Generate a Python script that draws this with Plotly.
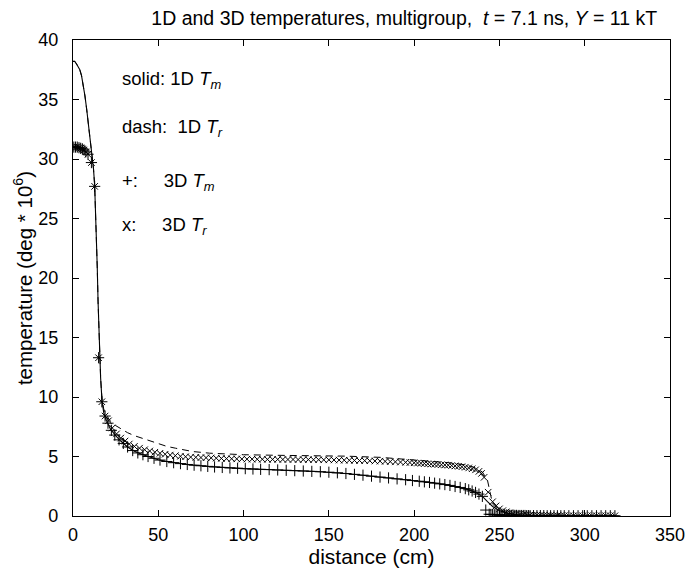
import plotly.graph_objects as go

# 1D solution (lines)
X1 = [0, 1, 2, 3, 4, 5, 6, 7, 8, 9, 10, 11, 12, 12.7, 13.2, 13.7, 14.2, 14.7, 15.2, 15.6, 16.2,
      17, 18, 19, 20, 22, 25, 28, 32, 36, 40, 45, 50, 55, 60, 70, 80, 90, 100, 120, 140,
      160, 180, 200, 210, 220, 230, 235, 240, 243, 246, 250, 255, 260, 270, 280, 290, 300, 310, 320]
TM1 = [38.2, 38.2, 38.0, 37.8, 37.5, 37.0, 36.2, 35.3, 34.2, 33.0, 31.7, 30.4, 29.2, 27.8, 26.0, 24.0,
       21.0, 18.0, 15.3, 14.0, 11.6,
       9.7, 8.7, 8.2, 7.9, 7.3, 6.75, 6.3, 5.8, 5.45, 5.2, 4.95, 4.72, 4.58, 4.48, 4.28, 4.16, 4.06,
       3.98, 3.87, 3.76, 3.57, 3.27, 2.98, 2.82, 2.6, 2.3, 2.05, 1.65, 1.2, 0.8, 0.45, 0.22, 0.1,
       0.03, 0.01, 0.0, 0.0, 0.0, 0.0]
TR1 = TM1[:21] + [9.8, 9.0, 8.6, 8.35, 7.95, 7.6, 7.35, 7.0, 6.75, 6.55, 6.3, 6.07, 5.85, 5.7, 5.42,
                  5.28, 5.2, 5.15, 5.1, 5.07, 5.03, 4.93, 4.72, 4.6, 4.48, 4.3, 4.1, 3.7, 3.0, 1.0,
                  0.45, 0.22, 0.1, 0.04, 0.02, 0.01, 0.0, 0.0, 0.0]

# 3D solution, material temperature (+)
X3M = [0.5, 1.5, 2.5, 3.5, 4.5, 5.5, 6.5, 7.5, 8.8, 10.8, 12.7, 15.0, 16.9, 18.8,
       20.5, 22.5, 24.5, 27, 29.5, 32, 35, 38, 41, 44, 47.5, 51, 55, 59, 63, 67, 71, 75, 79, 83,
       87.5, 92, 96.5, 101, 105.5, 110, 115, 120, 125, 130, 135, 140, 145, 150, 155, 160, 165, 170,
       175, 180, 185, 190, 195, 199, 203, 206, 209, 212, 215, 218, 221, 224, 227, 230, 232, 234,
       236, 238, 240, 242,
       244, 245, 246, 247, 248, 249, 250, 251, 252, 253, 254, 255, 256, 257, 258, 259, 260, 261,
       262, 263, 264, 265, 266, 267, 268, 270, 272, 274, 276, 278, 280, 282, 284, 286, 288,
       290.7, 293.4, 296.1, 298.8, 301.5, 304.2, 306.9, 309.6, 312.3, 315, 317.7]
T3M = [31.0, 31.0, 31.0, 30.95, 30.9, 30.85, 30.75, 30.6, 30.4, 29.7, 27.7, 13.3, 9.6, 8.4,
       7.8, 7.2, 6.8, 6.4, 6.1, 5.8, 5.5, 5.3, 5.15, 5.0, 4.85, 4.7, 4.58, 4.48, 4.4, 4.33, 4.27,
       4.22, 4.17, 4.12, 4.08, 4.04, 4.01, 3.98, 3.95, 3.92, 3.9, 3.87, 3.84, 3.81, 3.78, 3.75,
       3.72, 3.68, 3.63, 3.57, 3.5, 3.43, 3.35, 3.27, 3.2, 3.12, 3.05, 2.98, 2.92, 2.87, 2.82,
       2.76, 2.7, 2.64, 2.57, 2.48, 2.4, 2.3, 2.2, 2.1, 1.98, 1.84, 1.65, 0.5,
       0.15, 0.13, 0.12, 0.11, 0.1, 0.09, 0.08, 0.08, 0.07, 0.07, 0.06, 0.06, 0.06, 0.05, 0.05,
       0.05, 0.05, 0.04, 0.04, 0.04, 0.04, 0.04, 0.03, 0.03, 0.03, 0.03, 0.03, 0.03, 0.03, 0.02,
       0.02, 0.02, 0.02, 0.02, 0.02,
       0.02, 0.02, 0.02, 0.02, 0.02, 0.02, 0.02, 0.02, 0.02, 0.02, 0.02]

# 3D solution, radiation temperature (x)
X3R = [0.5, 1.5, 2.5, 3.5, 4.5, 5.5, 6.5, 7.5, 8.8, 10.8, 12.7, 15.0, 16.9, 18.8,
       20.8, 23, 25.5, 28, 30.5, 33, 36, 39, 42, 45, 48, 51, 54, 57, 60, 63, 66, 69, 72, 75,
       78, 81, 84, 87, 90, 93, 96, 99, 102, 105, 108, 111, 114, 117, 120, 123, 126, 129, 132, 135,
       138, 141, 144, 147, 150, 153, 156, 159, 162, 165, 168, 171, 174, 177, 180, 183, 186, 189,
       192, 195, 197.5, 200, 202, 204, 206, 208, 210, 212, 214, 216, 218, 220, 222, 224, 226, 228,
       230, 232, 234, 236, 238, 239.5, 241,
       243.4, 246, 248, 250, 252, 254, 256, 258, 260, 262, 264, 266, 268, 270, 272, 274, 276, 278,
       280, 282, 284, 286, 288,
       290.7, 293.4, 296.1, 298.8, 301.5, 304.2, 306.9, 309.6, 312.3, 315, 317.7]
T3R = [31.0, 31.0, 31.0, 30.95, 30.9, 30.85, 30.75, 30.6, 30.4, 29.7, 27.7, 13.3, 9.6, 8.4,
       8.0, 7.4, 6.9, 6.55, 6.3, 6.05, 5.85, 5.7, 5.57, 5.46, 5.36, 5.27, 5.19, 5.12, 5.07, 5.02,
       4.98, 4.95, 4.93, 4.91,
       4.9, 4.88, 4.86, 4.84, 4.82, 4.81, 4.8, 4.79, 4.78, 4.78, 4.77, 4.77, 4.76, 4.76, 4.76,
       4.75, 4.75, 4.75, 4.74, 4.74, 4.74, 4.73, 4.73, 4.72, 4.72, 4.71, 4.7, 4.69, 4.68, 4.67,
       4.66, 4.65, 4.64, 4.62, 4.61, 4.59, 4.57, 4.55, 4.53, 4.51, 4.49, 4.47, 4.45, 4.43, 4.41,
       4.39, 4.37, 4.35, 4.33, 4.31, 4.29, 4.27, 4.24, 4.21, 4.18, 4.14, 4.1, 4.04, 3.97, 3.88,
       3.75, 3.58, 3.25,
       2.0, 1.2, 0.85, 0.6, 0.45, 0.35, 0.27, 0.21, 0.17, 0.14, 0.12, 0.1, 0.09, 0.08, 0.07, 0.06,
       0.05, 0.05, 0.04, 0.04, 0.03, 0.03, 0.03,
       0.02, 0.02, 0.02, 0.02, 0.02, 0.02, 0.02, 0.02, 0.02, 0.02, 0.02]

assert len(X1) == len(TM1) == len(TR1), (len(X1), len(TM1), len(TR1))
assert len(X3M) == len(T3M), (len(X3M), len(T3M))
assert len(X3R) == len(T3R), (len(X3R), len(T3R))

X_TICKS = [0, 50, 100, 150, 200, 250, 300, 350]
Y_TICKS = [0, 5, 10, 15, 20, 25, 30, 35, 40]

LABELS = [
    "solid: 1D <i>T</i><sub><i>m</i></sub>",
    "dash:&nbsp; 1D <i>T</i><sub><i>r</i></sub>",
    "+:&nbsp;&nbsp;&nbsp;&nbsp; 3D <i>T</i><sub><i>m</i></sub>",
    "x:&nbsp;&nbsp;&nbsp;&nbsp; 3D <i>T</i><sub><i>r</i></sub>",
]
LABEL_Y = [36.6, 32.6, 28.1, 24.4]

FONT = "Liberation Sans, Arial, Helvetica, sans-serif"

fig = go.Figure()
fig.add_trace(go.Scatter(x=X1, y=TM1, mode="lines", line=dict(color="black", width=1.1),
                         showlegend=False))
fig.add_trace(go.Scatter(x=X1, y=TR1, mode="lines",
                         line=dict(color="black", width=1, dash="7px,5px"), showlegend=False))
fig.add_trace(go.Scatter(x=X3M, y=T3M, mode="markers",
                         marker=dict(symbol="cross-thin", size=8, color="black",
                                     line=dict(color="black", width=1)), showlegend=False))
fig.add_trace(go.Scatter(x=X3R, y=T3R, mode="markers",
                         marker=dict(symbol="x-thin", size=6.5, color="black",
                                     line=dict(color="black", width=1)), showlegend=False))

for txt, yv in zip(LABELS, LABEL_Y):
    fig.add_annotation(x=27.5, y=yv, xref="x", yref="y", text=txt, showarrow=False,
                       xanchor="left", yanchor="middle", font=dict(size=18.5, color="black"))

axis_common = dict(showline=True, linecolor="black", linewidth=1.3, mirror="ticks",
                   ticks="inside", ticklen=6, tickcolor="black", tickwidth=1,
                   showgrid=False, zeroline=False, tickfont=dict(size=18, color="black"))

fig.update_layout(
    width=697, height=574,
    margin=dict(l=73, r=17, t=40, b=58),
    paper_bgcolor="white", plot_bgcolor="white",
    font=dict(family=FONT, color="black"),
    title=dict(text="1D and 3D temperatures, multigroup,&nbsp; <i>t</i> = 7.1 ns, <i>Y</i> = 11 kT",
               x=0.58, xanchor="center", y=0.968, yanchor="middle",
               font=dict(size=19.5, color="black")),
    xaxis=dict(range=[0, 350], tickvals=X_TICKS, ticklabelstandoff=2,
               title=dict(text="distance (cm)", font=dict(size=21), standoff=3), **axis_common),
    yaxis=dict(range=[0, 40], tickvals=Y_TICKS, ticklabelstandoff=10,
               title=dict(text="temperature (deg * 10<sup>6</sup>)", font=dict(size=20.5), standoff=0),
               **axis_common),
)

fig.write_html("out.html")
